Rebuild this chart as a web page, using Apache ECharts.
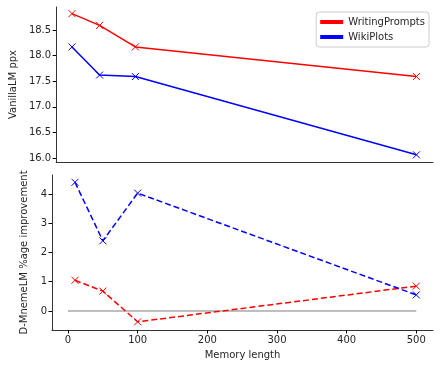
<!DOCTYPE html>
<html>
<head>
<meta charset="utf-8">
<script src="https://cdn.jsdelivr.net/npm/echarts@6/dist/echarts.min.js"></script>
<style>
  html, body { margin: 0; padding: 0; background: #fff; }
  #chart { width: 440px; height: 368px; }
</style>
</head>
<body>
<div id="chart"></div>
<script>
// memory length values, top panel (VanillaLM perplexity)
var pplX = [0, 40, 92, 500];
var pplWritingPrompts = [18.82, 18.59, 18.17, 17.59];
var pplWikiPlots = [18.17, 17.62, 17.59, 16.06];

// bottom panel (D-MnemeLM %age improvement)
var impX = [10, 50, 100, 500];
var impWritingPrompts = [1.05, 0.68, -0.37, 0.85];
var impWikiPlots = [4.4, 2.4, 4.03, 0.55];
var zeroLine = [[0, 0], [500, 0]];

var xTicks = [0, 100, 200, 300, 400, 500];
var pplTicks = [16.0, 16.5, 17.0, 17.5, 18.0, 18.5];
var impTicks = [0, 1, 2, 3, 4];

var crossPath = 'path://M0,0L10,10M10,0L0,10';
var font = 'DejaVu Sans';
var tickColor = '#262626';

function pairs(xs, ys) {
  return xs.map(function (x, i) { return [x, ys[i]]; });
}

function xAxisCfg(idx, showLabels) {
  return {
    type: 'value', gridIndex: idx, min: -23, max: 524,
    splitLine: { show: false },
    axisLine: { onZero: false, lineStyle: { color: '#000', width: 0.8 } },
    axisTick: { show: showLabels, length: 3.5, customValues: xTicks, lineStyle: { color: '#000' } },
    axisLabel: { show: showLabels, customValues: xTicks, color: tickColor, fontFamily: font, fontSize: 10, margin: 5 },
    name: showLabels ? 'Memory length' : '',
    nameLocation: 'middle', nameGap: 20,
    nameTextStyle: { color: tickColor, fontFamily: font, fontSize: 10 }
  };
}

function yAxisCfg(idx, min, max, ticks, decimals, name, gap) {
  return {
    type: 'value', gridIndex: idx, min: min, max: max,
    splitLine: { show: false },
    axisLine: { show: true, onZero: false, lineStyle: { color: '#000', width: 0.8 } },
    axisTick: { show: true, length: 3.5, customValues: ticks, lineStyle: { color: '#000' } },
    axisLabel: {
      customValues: ticks, color: tickColor, fontFamily: font, fontSize: 10, margin: 5,
      formatter: function (v) { return v.toFixed(decimals); }
    },
    name: name, nameLocation: 'middle', nameGap: gap,
    nameTextStyle: { color: tickColor, fontFamily: font, fontSize: 10 }
  };
}

function lineSeries(name, xi, data, color, dashed) {
  return {
    name: name, type: 'line', xAxisIndex: xi, yAxisIndex: xi,
    data: data, symbol: crossPath, symbolSize: 7,
    itemStyle: { color: 'none', borderColor: color, borderWidth: 1 },
    lineStyle: { color: color, width: 1.5, type: dashed ? [6, 3] : 'solid' },
    emphasis: { disabled: true },
    animation: false
  };
}

var chart = echarts.init(document.getElementById('chart'));
chart.setOption({
  backgroundColor: '#fff',
  animation: false,
  grid: [
    { left: 52, top: 7, width: 381, height: 155 },
    { left: 52, top: 175, width: 381, height: 155 }
  ],
  legend: {
    data: [
      { name: 'WritingPrompts', itemStyle: { color: 'red', borderWidth: 0 } },
      { name: 'WikiPlots', itemStyle: { color: 'blue', borderWidth: 0 } }
    ],
    orient: 'vertical', right: 11, top: 12,
    icon: 'rect', itemWidth: 23, itemHeight: 4, itemGap: 5,
    padding: [5, 4, 5, 4],
    borderColor: '#ccc', borderWidth: 1, borderRadius: 3,
    textStyle: { color: tickColor, fontFamily: font, fontSize: 10 }
  },
  xAxis: [xAxisCfg(0, false), xAxisCfg(1, true)],
  yAxis: [
    yAxisCfg(0, 15.92, 18.95, pplTicks, 1, 'VanillaLM ppx', 34),
    yAxisCfg(1, -0.65, 4.65, impTicks, 0, 'D-MnemeLM %age improvement', 16)
  ],
  series: [
    lineSeries('WritingPrompts', 0, pairs(pplX, pplWritingPrompts), 'red', false),
    lineSeries('WikiPlots', 0, pairs(pplX, pplWikiPlots), 'blue', false),
    {
      type: 'line', xAxisIndex: 1, yAxisIndex: 1, data: zeroLine,
      symbol: 'none', lineStyle: { color: '#5a5a5a', width: 0.8 }, silent: true
    },
    lineSeries('WritingPrompts', 1, pairs(impX, impWritingPrompts), 'red', true),
    lineSeries('WikiPlots', 1, pairs(impX, impWikiPlots), 'blue', true)
  ]
});
</script>
</body>
</html>
